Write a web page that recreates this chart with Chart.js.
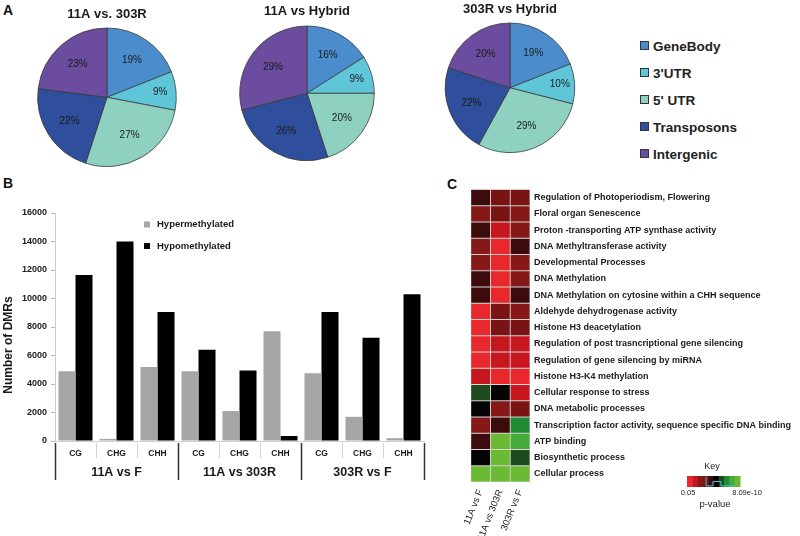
<!DOCTYPE html>
<html>
<head>
<meta charset="utf-8">
<script src="https://cdn.jsdelivr.net/npm/chart.js@4.4.1/dist/chart.umd.min.js"></script>
<style>
  body { margin: 0; width: 800px; height: 536px; background: #fff; position: relative; overflow: hidden;
         font-family: "Liberation Sans", Arial, sans-serif; color: #111; }
  canvas { position: absolute; }
  .panel { position: absolute; font-weight: bold; font-size: 14px; line-height: 14px; }
  .leg { position: absolute; left: 640px; font-weight: bold; font-size: 13.5px; line-height: 16px; color: #222; white-space: nowrap; }
  .leg i { display: inline-block; width: 7px; height: 7px; border: 1px solid #333; margin-right: 4px; vertical-align: 1px; }
</style>
</head>
<body>
<div class="panel" style="left:3px;top:3px;">A</div>
<div class="panel" style="left:3px;top:176px;">B</div>
<div class="panel" style="left:447px;top:177px;">C</div>
<div id="pieLegend"></div>

<canvas id="pie1" width="200" height="167" style="left:7px;top:0px;"></canvas>
<canvas id="pie2" width="200" height="161" style="left:207px;top:0px;"></canvas>
<canvas id="pie3" width="200" height="153" style="left:410px;top:0px;"></canvas>
<canvas id="bars" width="440" height="310" style="left:0px;top:190px;"></canvas>
<canvas id="heat" width="340" height="356" style="left:460px;top:180px;"></canvas>

<script>
// ---- panel A: genomic distribution of DMRs (%)
const pieCategories = ['GeneBody', "3'UTR", "5' UTR", 'Transposons', 'Intergenic'];
const pieColors = ['#4b8dcc', '#5fc6da', '#8fd1c1', '#2f4e9c', '#6b4c9e'];
const pieTitles = ['11A vs. 303R', '11A vs Hybrid', '303R vs Hybrid'];
const pie11Av303R = [19, 9, 27, 22, 23];
const pie11AvHybrid = [16, 9, 20, 26, 29];
const pie303RvHybrid = [19, 10, 29, 22, 20];

// ---- panel B: number of DMRs per context
const contexts = ['CG', 'CHG', 'CHH', 'CG', 'CHG', 'CHH', 'CG', 'CHG', 'CHH'];
const comparisons = ['11A vs F', '11A vs 303R', '303R vs F'];
const hyperDMRs = [4900, 150, 5200, 4900, 2100, 7700, 4750, 1700, 200];
const hypoDMRs = [11650, 14000, 9050, 6400, 4950, 350, 9050, 7250, 10300];

// ---- panel C: GO enrichment heatmap (p-value levels, 0 = 0.05 ... 9 = 8.09e-10)
const goTerms = [
  'Regulation of Photoperiodism, Flowering',
  'Floral organ Senescence',
  'Proton -transporting ATP synthase activity',
  'DNA Methyltransferase activity',
  'Developmental Processes',
  'DNA Methylation',
  'DNA Methylation on cytosine within a CHH sequence',
  'Aldehyde dehydrogenase activity',
  'Histone H3 deacetylation',
  'Regulation of post trasncriptional gene silencing',
  'Regulation of gene silencing by miRNA',
  'Histone H3-K4 methylation',
  'Cellular response to stress',
  'DNA metabolic processes',
  'Transcription factor activity, sequence specific DNA binding',
  'ATP binding',
  'Biosynthetic process',
  'Cellular process'
];
const heatColumns = ['11A vs F', '11A vs 303R', '303R vs F'];
const level11AvF    = [4, 2, 4, 2, 2, 4, 4, 0, 0, 0, 0, 1, 6, 5, 2, 4, 5, 9];
const level11Av303R = [3, 3, 1, 0, 0, 0, 0, 3, 3, 1, 1, 0, 5, 2, 4, 9, 9, 9];
const level303RvF   = [3, 2, 2, 4, 2, 2, 4, 2, 3, 1, 1, 0, 1, 3, 7, 8, 6, 9];
const heatPalette = ['#e8282a', '#c8161f', '#861818', '#7a1414', '#3c0c0c', '#050505', '#1e4a1e', '#1f8c33', '#45ab3a', '#6bba34'];

const FONT = '"Liberation Sans", Arial, sans-serif';
Chart.defaults.font.family = FONT;
Chart.defaults.color = '#1a1a1a';
Chart.defaults.animation = false;
Chart.defaults.plugins.tooltip.enabled = false;

// percentage labels inside the pie slices
const pieLabels = {
  id: 'pieLabels',
  afterDatasetsDraw(chart) {
    const ctx = chart.ctx;
    const values = chart.data.datasets[0].data;
    ctx.save();
    ctx.font = '10px ' + FONT;
    ctx.fillStyle = '#1a1a1a';
    ctx.textAlign = 'center';
    ctx.textBaseline = 'middle';
    chart.getDatasetMeta(0).data.forEach((arc, i) => {
      const p = arc.getProps(['x', 'y', 'startAngle', 'endAngle', 'outerRadius'], true);
      const mid = (p.startAngle + p.endAngle) / 2;
      const r = p.outerRadius * (values[i] < 12 ? 0.77 : 0.64);
      ctx.fillText(values[i] + '%', p.x + Math.cos(mid) * r, p.y + Math.sin(mid) * r);
    });
    ctx.restore();
  }
};

function drawPie(id, title, values, padTop, padBottom) {
  return new Chart(document.getElementById(id), {
    type: 'pie',
    data: {
      labels: pieCategories,
      datasets: [{ data: values, backgroundColor: pieColors, borderColor: '#3a3a3a', borderWidth: 0.8 }]
    },
    options: {
      responsive: false,
      plugins: {
        legend: { display: false },
        title: {
          display: true,
          text: title,
          font: { size: 13, weight: 'bold' },
          padding: { top: padTop, bottom: padBottom }
        }
      }
    },
    plugins: [pieLabels]
  });
}

drawPie('pie1', pieTitles[0], pie11Av303R, 7, 5);
drawPie('pie2', pieTitles[1], pie11AvHybrid, 4, 6);
drawPie('pie3', pieTitles[2], pie303RvHybrid, 2, 5);

// legend for the pies
const legendBox = document.getElementById('pieLegend');
pieCategories.forEach((name, i) => {
  const d = document.createElement('div');
  d.className = 'leg';
  d.style.top = (39 + i * 27) + 'px';
  d.innerHTML = '<i style="background:' + pieColors[i] + '"></i>' + name;
  legendBox.appendChild(d);
});

// panel B extras: category separators, group labels, y title, legend
const barDecor = {
  id: 'barDecor',
  afterDraw(chart) {
    const { ctx, chartArea } = chart;
    const x = chart.scales.x;
    const step = x.getPixelForValue(1) - x.getPixelForValue(0);
    ctx.save();
    for (let i = 0; i <= contexts.length; i++) {
      const px = Math.round(x.getPixelForValue(0) - step / 2 + i * step) + 0.5;
      const group = i % 3 === 0;
      ctx.strokeStyle = group ? '#333' : '#d4d4d4';
      ctx.lineWidth = group ? 1.5 : 1;
      ctx.beginPath();
      ctx.moveTo(px, chartArea.bottom + 2);
      ctx.lineTo(px, chartArea.bottom + (group ? 39 : 17));
      ctx.stroke();
    }
    ctx.fillStyle = '#1a1a1a';
    ctx.textAlign = 'center';
    ctx.textBaseline = 'middle';
    ctx.font = 'bold 12.5px ' + FONT;
    comparisons.forEach((g, gi) => {
      const cx = x.getPixelForValue(gi * 3 + 1);
      ctx.fillText(g, cx, chartArea.bottom + 32);
    });
    // y axis title, centred on the whole axis block
    ctx.save();
    ctx.translate(9, 155);
    ctx.rotate(-Math.PI / 2);
    ctx.font = 'bold 12px ' + FONT;
    ctx.fillText('Number of DMRs', 0, 0);
    ctx.restore();
    // legend inside the plot
    ctx.textAlign = 'left';
    ctx.font = 'bold 9.5px ' + FONT;
    chart.data.datasets.forEach((ds, i) => {
      const y = 34.5 + i * 21.5;
      ctx.fillStyle = ds.backgroundColor;
      ctx.fillRect(144, y - 3, 6, 6);
      ctx.fillStyle = '#1a1a1a';
      ctx.fillText(ds.label, 157, y);
    });
    ctx.restore();
  }
};

new Chart(document.getElementById('bars'), {
  type: 'bar',
  data: {
    labels: contexts,
    datasets: [
      { label: 'Hypermethylated', data: hyperDMRs, backgroundColor: '#a6a6a6' },
      { label: 'Hypomethylated', data: hypoDMRs, backgroundColor: '#000000' }
    ]
  },
  options: {
    responsive: false,
    layout: { padding: { top: 23, right: 16, bottom: 0, left: 0 } },
    datasets: { bar: { categoryPercentage: 0.83, barPercentage: 1 } },
    plugins: { legend: { display: false } },
    scales: {
      x: {
        afterFit(scale) { scale.height = 59; },
        grid: { display: false, drawTicks: false },
        border: { display: true, color: '#d0d0d0' },
        ticks: { font: { size: 8.5, weight: 'bold' }, padding: 8, maxRotation: 0 }
      },
      y: {
        min: 0,
        max: 16000,
        afterFit(scale) { scale.width = 55; },
        grid: { drawOnChartArea: false, tickLength: 4, color: '#b8b8b8' },
        border: { display: true, color: '#cccccc' },
        ticks: { stepSize: 2000, font: { size: 9, weight: 'bold' }, padding: 4, callback: v => String(v) }
      }
    }
  },
  plugins: [barDecor]
});

// panel C: heatmap drawn as stacked bars, one dataset per GO term
const heatLevels = [level11AvF, level11Av303R, level303RvF];
const heatKey = {
  id: 'heatKey',
  afterDraw(chart) {
    const ctx = chart.ctx;
    const x0 = 227, y0 = 296, w = 53, h = 11;
    ctx.save();
    heatPalette.forEach((c, i) => {
      ctx.fillStyle = c;
      ctx.fillRect(x0 + i * w / heatPalette.length, y0, w / heatPalette.length + 0.5, h);
    });
    ctx.strokeStyle = '#3cc8d8';
    ctx.lineWidth = 1;
    ctx.beginPath();
    const pts = [[0.36, 0.05], [0.36, 0.9], [0.49, 0.9], [0.49, 0.5], [0.64, 0.5], [0.64, 0.9], [0.9, 0.9]];
    pts.forEach(([px, py], i) => {
      const X = x0 + px * w, Y = y0 + py * h;
      if (i === 0) ctx.moveTo(X, Y); else ctx.lineTo(X, Y);
    });
    ctx.stroke();
    ctx.fillStyle = '#1a1a1a';
    ctx.textAlign = 'center';
    ctx.textBaseline = 'middle';
    ctx.font = '9px ' + FONT;
    ctx.fillText('Key', 252, 287);
    ctx.font = '7.5px ' + FONT;
    ctx.fillText('0.05', 228, 313);
    ctx.fillText('8.09e-10', 287, 313);
    ctx.font = '9.5px ' + FONT;
    ctx.fillText('p-value', 255, 324);
    ctx.restore();
  }
};

new Chart(document.getElementById('heat'), {
  type: 'bar',
  data: {
    labels: heatColumns,
    datasets: goTerms.map((term, r) => ({
      label: term,
      data: heatColumns.map(() => 1),
      backgroundColor: heatLevels.map(col => heatPalette[col[r]]),
      borderColor: '#cfcfcf',
      borderWidth: 0.8,
      borderSkipped: false
    }))
  },
  options: {
    responsive: false,
    layout: { padding: { top: 7, left: 5, right: 0, bottom: 0 } },
    datasets: { bar: { categoryPercentage: 1, barPercentage: 1 } },
    plugins: { legend: { display: false } },
    scales: {
      x: {
        stacked: true,
        afterFit(scale) { scale.height = 54; },
        grid: { display: false, drawTicks: false },
        border: { display: false },
        ticks: { minRotation: 68, maxRotation: 68, padding: 6, font: { size: 9.5 } }
      },
      y: {
        type: 'linear',
        position: 'right',
        stacked: true,
        reverse: true,
        min: 0,
        max: goTerms.length,
        afterFit(scale) { scale.width = 270; },
        afterBuildTicks(scale) { scale.ticks = goTerms.map((_, i) => ({ value: i + 0.5 })); },
        grid: { display: false, drawTicks: false },
        border: { display: false },
        ticks: {
          autoSkip: false,
          padding: 4,
          font: { size: 9, weight: 'bold' },
          callback: (v, i) => goTerms[i]
        }
      }
    }
  },
  plugins: [heatKey]
});
</script>
</body>
</html>
